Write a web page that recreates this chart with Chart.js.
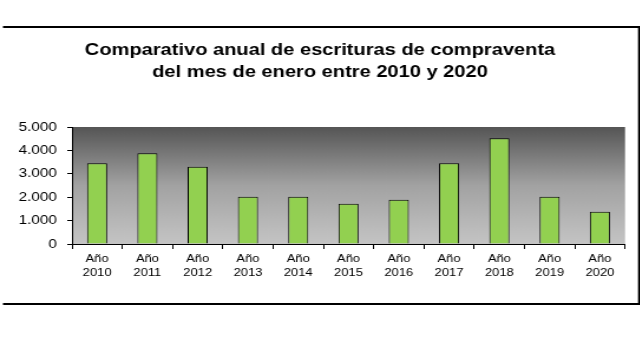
<!DOCTYPE html>
<html>
<head>
<meta charset="utf-8">
<script src="https://cdn.jsdelivr.net/npm/chart.js@4"></script>
<style>
    body { margin: 0; background: #fff; }
    /* el gráfico se dibuja más estrecho y se estira en horizontal */
    #wrap { width: 542.37px; height: 338px; transform: scaleX(1.18); transform-origin: 0 0; }
</style>
</head>
<body>
<div id="wrap"><canvas id="barChart"></canvas></div>
<script>
const years = ['2010', '2011', '2012', '2013', '2014', '2015', '2016', '2017', '2018', '2019', '2020'];
const escrituras = [3450, 3880, 3300, 2020, 2020, 1720, 1890, 3450, 4520, 2020, 1380];
const yTickLabels = ['0', '1.000', '2.000', '3.000', '4.000', '5.000'];
const titleLines = ['Comparativo anual de escrituras de compraventa', 'del mes de enero entre 2010 y 2020'];

// marco exterior, título y fondo degradado del área de trazado
const framePlugin = {
    id: 'frame',
    beforeDraw(chart) {
        const ctx = chart.ctx;
        const a = chart.chartArea;
        ctx.save();
        ctx.fillStyle = '#fff';
        ctx.fillRect(0, 0, chart.width, chart.height);

        const g = ctx.createLinearGradient(0, a.top, 0, a.bottom);
        g.addColorStop(0, '#555555');
        g.addColorStop(0.5, '#a2a2a2');
        g.addColorStop(1, '#c4c4c4');
        ctx.fillStyle = g;
        ctx.fillRect(a.left, a.top, a.right - a.left, a.bottom - a.top);

        ctx.fillStyle = '#000';
        ctx.fillRect(2.5, 26, 539.9, 2);
        ctx.fillRect(2.5, 303, 539.9, 2);
        ctx.fillRect(540.7, 26, 1.7, 279);

        ctx.font = 'bold 17px "Liberation Sans", Arial';
        ctx.textAlign = 'center';
        ctx.textBaseline = 'alphabetic';
        ctx.fillText(titleLines[0], 271.2, 55);
        ctx.fillText(titleLines[1], 271.2, 77);
        ctx.restore();
    }
};

new Chart(document.getElementById('barChart'), {
    type: 'bar',
    data: {
        labels: years.map(y => ['Año', y]),
        datasets: [{
            data: escrituras,
            backgroundColor: '#92d050',
            borderColor: '#000',
            borderWidth: 1,
            categoryPercentage: 1,
            barPercentage: 0.4
        }]
    },
    options: {
        responsive: true,
        maintainAspectRatio: false,
        animation: false,
        layout: { padding: { left: 0, right: 12.7, top: 127, bottom: 0 } },
        plugins: {
            legend: { display: false },
            tooltip: { enabled: false }
        },
        scales: {
            x: {
                grid: { drawOnChartArea: false, color: '#000', tickLength: 5, offset: true },
                border: { color: '#000', width: 1 },
                ticks: {
                    color: '#000',
                    padding: 3,
                    maxRotation: 0,
                    font: { family: 'Liberation Sans, Arial', size: 11, lineHeight: 1.25 }
                },
                afterFit(scale) { scale.height = 94; }
            },
            y: {
                min: 0,
                max: 5000,
                ticks: {
                    stepSize: 1000,
                    color: '#000',
                    padding: 8.7,
                    font: { family: 'Liberation Sans, Arial', size: 13 },
                    callback: (v, i) => yTickLabels[i]
                },
                grid: { drawOnChartArea: false, color: '#000', tickLength: 4 },
                border: { color: '#000', width: 1 },
                afterFit(scale) { scale.width = 61; }
            }
        }
    },
    plugins: [framePlugin]
});
</script>
</body>
</html>
